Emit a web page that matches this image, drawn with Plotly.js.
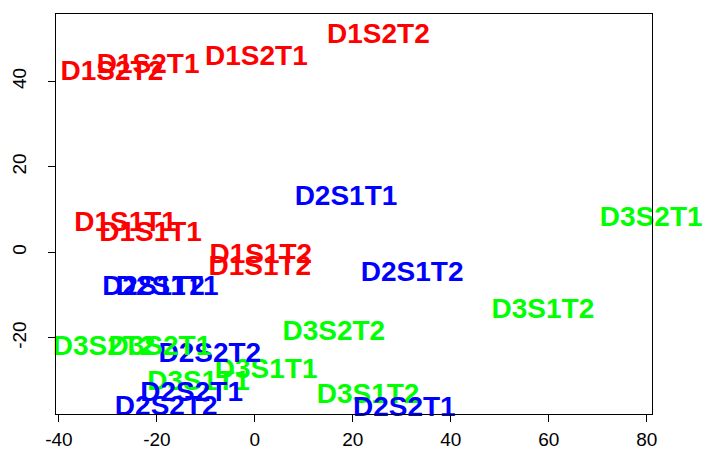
<!DOCTYPE html>
<html>
<head>
<meta charset="utf-8">
<script src="https://cdn.plot.ly/plotly-3.0.1.min.js"></script>
<style>html,body{margin:0;padding:0;background:#fff;}#chart{width:704px;height:450px;}</style>
</head>
<body>
<div id="chart"></div>
<script>
const labels = ["D1S2T2","D1S2T1","D1S2T1","D1S2T2","D1S1T1","D1S1T1","D1S1T2","D1S1T2",
  "D2S1T2","D2S1T1","D2S1T1","D2S1T2","D3S2T1","D3S1T2","D3S2T2","D3S1T2",
  "D2S2T1","D3S1T1","D2S2T2","D3S1T1","D2S2T1","D2S2T2","D3S2T2","D3S2T1"];
const dim1 = [25.2, 0.3, -21.8, -29.2, -26.4, -21.3, 1.2, 1.0,
  -20.7, -17.9, 18.6, 32.1, 80.9, 58.8, 16.1, 23.1,
  30.5, 2.3, -9.2, -11.5, -12.9, -18.1, -30.8, -19.4];
const dim2 = [50.7, 45.4, 43.5, 42.0, 6.6, 4.3, -0.9, -3.7,
  -8.3, -8.3, 12.7, -5.1, 7.9, -13.7, -18.8, -33.6,
  -36.7, -27.7, -24.0, -30.5, -33.1, -36.4, -22.3, -22.3];
const groupColors = {D1: "#FF0000", D2: "#0000FF", D3: "#00FF00"};
const xTicks = [-40, -20, 0, 20, 40, 60, 80];
const yTicks = [-20, 0, 20, 40];

const colors = labels.map(l => groupColors[l.slice(0, 2)]);

const trace = {
  x: dim1, y: dim2, text: labels, mode: "text", type: "scatter",
  textposition: "middle center", cliponaxis: false, hoverinfo: "none",
  textfont: {family: "Liberation Sans, Arial, sans-serif", size: 28, color: colors, weight: "bold"}
};

const axisBase = {
  showgrid: false, zeroline: false, showline: true, mirror: true,
  linecolor: "#000", linewidth: 1, ticks: "outside", ticklen: 7, tickcolor: "#000",
  tickfont: {family: "Liberation Sans, Arial, sans-serif", size: 19, color: "#000"}
};

const layout = {
  width: 704, height: 450,
  margin: {l: 56, r: 52, t: 14, b: 36},
  paper_bgcolor: "#fff", plot_bgcolor: "#fff",
  showlegend: false,
  xaxis: Object.assign({}, axisBase, {range: [-40.6, 81.06], tickvals: xTicks, ticktext: xTicks.map(String), ticklabelstandoff: 1}),
  yaxis: Object.assign({}, axisBase, {range: [-37.8, 55.76], tickvals: yTicks, ticktext: yTicks.map(String), tickangle: -90, ticklabelstandoff: 14})
};

Plotly.newPlot("chart", [trace], layout, {staticPlot: true});
</script>
</body>
</html>
